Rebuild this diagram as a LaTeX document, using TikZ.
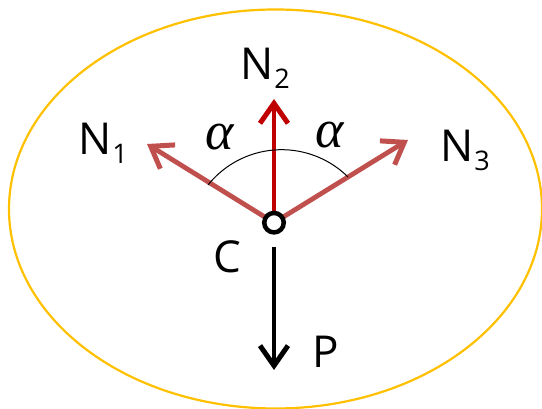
\documentclass[tikz,border=0pt]{standalone}
\usepackage{fontspec}
\setmainfont{Open Sans}
\newfontfamily\grkfont{Liberation Serif}
\usetikzlibrary{arrows.meta}
\definecolor{gold}{HTML}{FFC000}
\definecolor{softred}{HTML}{C0504D}
\definecolor{deepred}{HTML}{C00000}
\newcommand{\lbl}[2]{#1\kern1pt\raisebox{-9pt}{\fontsize{27}{27}\selectfont #2}}
\tikzset{
  force/.style={line width=4.8pt, -{Straight Barb[length=20pt,width=28pt,line width=5pt]}},
  txt/.style={inner sep=0pt, anchor=base west, font=\fontsize{44}{50}\selectfont},
  gtxt/.style={inner sep=0pt, anchor=base west, font=\fontsize{54}{60}\selectfont\grkfont\itshape},
}
\begin{document}
\begin{tikzpicture}[x=1pt,y=1pt]
\useasboundingbox (0,0) rectangle (542,409);
\draw[gold, line width=2.2pt] (275.5,200) ellipse [x radius=266.5, y radius=199.5];
\coordinate (C) at (274,186.3);
\coordinate (t1) at (147,265);
\coordinate (t2) at (274,310);
\coordinate (t3) at (408,269);
\coordinate (pS) at (274,162);
\coordinate (pE) at (274,39);
\draw[force, softred] (C) -- (t1);
\draw[force, softred] (C) -- (t3);
\draw[force, deepred] (C) -- (t2);
\draw[force, black] (pS) -- (pE);
\draw[line width=1pt] (348,232) arc[start angle=45.3, end angle=141.2, radius=94.4];
\node[circle, draw=black, fill=white, line width=4.5pt, minimum size=19.5pt, inner sep=0pt] (c) at (C) {};
\node[txt] (n1) at (78,254) {\lbl{N}{1}};
\node[txt] (n2) at (240,329) {\lbl{N}{2}};
\node[txt] (n3) at (440,247) {\lbl{N}{3}};
\node[txt] (lc) at (213,136) {C};
\node[txt] (lp) at (312,41) {P};
\node[gtxt] (a1) at (205,259) {α};
\node[gtxt] (a2) at (315,261) {α};
\end{tikzpicture}
\end{document}
